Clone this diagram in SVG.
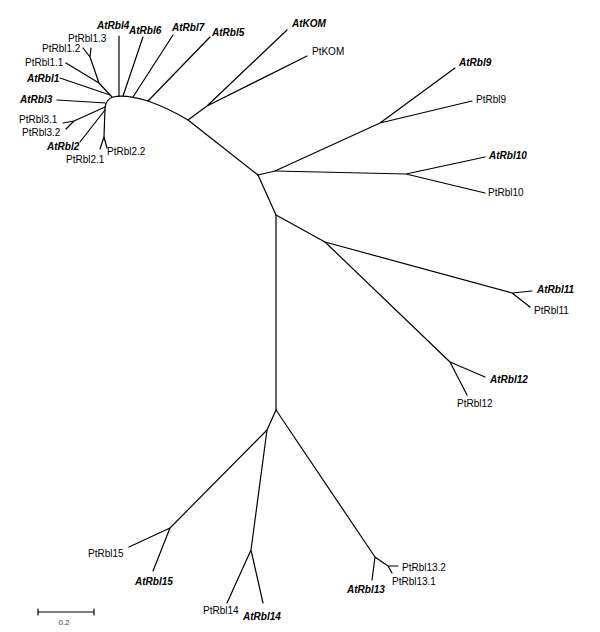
<svg xmlns="http://www.w3.org/2000/svg" width="600" height="632" viewBox="0 0 600 632">
<style>
.e{stroke:#000;stroke-width:1.2;fill:none;stroke-linecap:round;stroke-linejoin:round}
text{font-family:"Liberation Sans",Arial,sans-serif;font-size:10px;fill:#000}
.at{font-weight:bold;font-style:italic}
.pt{font-weight:normal}
.sc{font-size:8px;fill:#444}
</style>
<rect width="600" height="632" fill="#fff"/>
<g id="connectors" class="e">
<path d="M104,137 L105,108 Q106,99 113,97 Q125,94 148,101 Q170,109 188,120 L258,175"/>
<path d="M119,96 L119,36"/>
<path d="M123,96 L143,37"/>
<path d="M133,97 L173,35"/>
<path d="M148,101 L210,37"/>
<path d="M188,120 L207,106 L287,30 M207,106 L307,56"/>
<path d="M112,97 L99,83 L66,63 M99,83 L90,57 L83,48 M90,57 L91,48"/>
<path d="M60,78 L110,95"/>
<path d="M57,100 L106,103"/>
<path d="M105,107 L74,121 L63,123 M74,121 L66,129"/>
<path d="M105,110 L80,142"/>
<path d="M100,149 L104,137 L107,148"/>
<path d="M258,175 L275,171 L380,123 L455,68 M380,123 L472,101"/>
<path d="M275,171 L406,174 L485,157 M406,174 L485,193"/>
<path d="M258,175 L276,215 L276,410"/>
<path d="M276,215 L325,242 L512,293 L532,291 M512,293 L530,307"/>
<path d="M325,242 L450,362 L485,377 M450,362 L467,395"/>
<path d="M276,410 L267,430 L170,528 L129,547 M170,528 L153,571"/>
<path d="M267,430 L251,550 L227,603 M251,550 L263,603"/>
<path d="M276,410 L375,557 L372,580 M375,557 L388,566 L398,566 M388,566 L392,573"/>
</g>
<g id="AtRbl4"><text class="at" x="97" y="29">AtRbl4</text></g>
<g id="AtRbl6"><text class="at" x="129" y="34">AtRbl6</text></g>
<g id="AtRbl7"><text class="at" x="172" y="31">AtRbl7</text></g>
<g id="AtRbl5"><text class="at" x="212" y="36">AtRbl5</text></g>
<g id="AtKOM"><text class="at" x="292" y="27">AtKOM</text></g>
<g id="PtKOM"><text class="pt" x="312" y="55">PtKOM</text></g>
<g id="AtRbl9"><text class="at" x="459" y="66">AtRbl9</text></g>
<g id="PtRbl9"><text class="pt" x="476" y="103">PtRbl9</text></g>
<g id="AtRbl10"><text class="at" x="489" y="159">AtRbl10</text></g>
<g id="PtRbl10"><text class="pt" x="488" y="196">PtRbl10</text></g>
<g id="AtRbl11"><text class="at" x="537" y="293">AtRbl11</text></g>
<g id="PtRbl11"><text class="pt" x="534" y="314">PtRbl11</text></g>
<g id="AtRbl12"><text class="at" x="490" y="383">AtRbl12</text></g>
<g id="PtRbl12"><text class="pt" x="457" y="407">PtRbl12</text></g>
<g id="PtRbl13.2"><text class="pt" x="402" y="571">PtRbl13.2</text></g>
<g id="PtRbl13.1"><text class="pt" x="392" y="585">PtRbl13.1</text></g>
<g id="AtRbl13"><text class="at" x="347" y="593">AtRbl13</text></g>
<g id="AtRbl14"><text class="at" x="243" y="620">AtRbl14</text></g>
<g id="PtRbl14"><text class="pt" x="203" y="614">PtRbl14</text></g>
<g id="AtRbl15"><text class="at" x="135" y="585">AtRbl15</text></g>
<g id="PtRbl15"><text class="pt" x="88" y="557">PtRbl15</text></g>
<g id="PtRbl1.3"><text class="pt" x="68" y="42">PtRbl1.3</text></g>
<g id="PtRbl1.2"><text class="pt" x="42" y="52">PtRbl1.2</text></g>
<g id="PtRbl1.1"><text class="pt" x="25" y="66">PtRbl1.1</text></g>
<g id="AtRbl1"><text class="at" x="27" y="82">AtRbl1</text></g>
<g id="AtRbl3"><text class="at" x="20" y="103">AtRbl3</text></g>
<g id="PtRbl3.1"><text class="pt" x="19" y="123">PtRbl3.1</text></g>
<g id="PtRbl3.2"><text class="pt" x="22" y="136">PtRbl3.2</text></g>
<g id="AtRbl2"><text class="at" x="47" y="150">AtRbl2</text></g>
<g id="PtRbl2.1"><text class="pt" x="66" y="163">PtRbl2.1</text></g>
<g id="PtRbl2.2"><text class="pt" x="107" y="155">PtRbl2.2</text></g>
<g id="scale">
<path class="e" d="M38,612 L94,612 M38,609 L38,615 M94,609 L94,615"/>
<text class="sc" x="64" y="625" text-anchor="middle">0.2</text>
</g>
</svg>
